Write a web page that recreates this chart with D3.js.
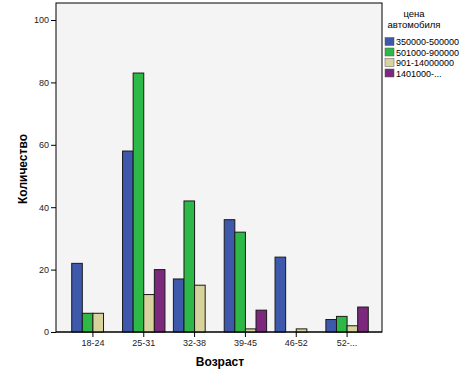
<!DOCTYPE html>
<html>
<head>
<meta charset="utf-8">
<script src="https://cdn.jsdelivr.net/npm/d3@7"></script>
<style>
  body { margin: 0; background: #fff; }
  svg { font-family: "Liberation Sans", Arial, sans-serif; }
</style>
</head>
<body>
<div id="chart"></div>
<script>
// age groups and price ranges
var ageGroups = ['18-24', '25-31', '32-38', '39-45', '46-52', '52-...'];
var priceRanges = ['350000-500000', '501000-900000', '901-14000000', '1401000-...'];
var priceColors = ['#3E58AC', '#2EB848', '#D8D39C', '#7C287D'];

// counts per age group, one array per price range
var cheap = [22, 58, 17, 36, 24, 4];
var middle = [6, 83, 42, 32, 0, 5];
var upper = [6, 12, 15, 1, 1, 2];
var top1 = [0, 20, 0, 7, 0, 8];
var yTicks = [0, 20, 40, 60, 80, 100];

var series = [cheap, middle, upper, top1];

var width = 464, height = 373;
var plot = { left: 56, right: 382, top: 3, bottom: 332 };

var svg = d3.select('#chart').append('svg')
    .attr('width', width)
    .attr('height', height);

// plot background
svg.append('rect')
    .attr('x', plot.left)
    .attr('y', plot.top)
    .attr('width', plot.right - plot.left)
    .attr('height', plot.bottom - plot.top)
    .attr('fill', '#F4F4F4')
    .attr('stroke', '#000')
    .attr('stroke-width', 1);

var x0 = d3.scaleBand()
    .domain(ageGroups)
    .range([67.5, 372.5]);

var x1 = d3.scaleBand()
    .domain(d3.range(priceRanges.length))
    .range([x0.bandwidth() / 2 - 21.2, x0.bandwidth() / 2 + 21.2]);

var y = d3.scaleLinear()
    .domain([0, 100])
    .range([plot.bottom, 20]);

// flatten data for bars, skip zero counts (SPSS leaves them out)
var bars = [];
series.forEach(function (vals, s) {
    vals.forEach(function (v, i) {
        if (v > 0) bars.push({ group: ageGroups[i], s: s, value: v });
    });
});

svg.append('g').selectAll('rect')
    .data(bars)
    .enter()
    .append('rect')
    .attr('x', function (d) { return x0(d.group) + x1(d.s); })
    .attr('y', function (d) { return y(d.value); })
    .attr('width', x1.bandwidth())
    .attr('height', function (d) { return plot.bottom - y(d.value); })
    .attr('fill', function (d) { return priceColors[d.s]; })
    .attr('stroke', '#1a1a1a')
    .attr('stroke-width', 1);

// y axis
var yAxis = svg.append('g')
    .attr('transform', 'translate(' + plot.left + ',0)')
    .call(d3.axisLeft(y).tickValues(yTicks).tickSize(5).tickPadding(2));
yAxis.select('.domain').remove();
yAxis.selectAll('text').attr('font-size', 9).attr('fill', '#222').attr('font-family', null);

// x axis
var xAxis = svg.append('g')
    .attr('transform', 'translate(0,' + plot.bottom + ')')
    .call(d3.axisBottom(x0).tickSize(5).tickPadding(3).tickSizeOuter(0));
xAxis.select('.domain').remove();
xAxis.selectAll('text').attr('font-size', 9).attr('fill', '#222').attr('font-family', null);

svg.append('line')
    .attr('x1', plot.left).attr('x2', plot.right)
    .attr('y1', plot.bottom).attr('y2', plot.bottom)
    .attr('stroke', '#000');

// axis titles
svg.append('text')
    .attr('x', 220)
    .attr('y', 366)
    .attr('text-anchor', 'middle')
    .attr('font-size', 12)
    .attr('font-weight', 'bold')
    .text('Возраст');

svg.append('text')
    .attr('transform', 'translate(27,169) rotate(-90)')
    .attr('text-anchor', 'middle')
    .attr('font-size', 12)
    .attr('font-weight', 'bold')
    .text('Количество');

// legend
var legend = svg.append('g');
legend.append('text')
    .attr('x', 414).attr('y', 17)
    .attr('text-anchor', 'middle')
    .attr('font-size', 9.5)
    .text('цена');
legend.append('text')
    .attr('x', 414).attr('y', 28)
    .attr('text-anchor', 'middle')
    .attr('font-size', 9.5)
    .text('автомобиля');

var items = legend.selectAll('g.item')
    .data(priceRanges)
    .enter()
    .append('g')
    .attr('class', 'item')
    .attr('transform', function (d, i) { return 'translate(385,' + (37.5 + i * 10.5) + ')'; });

items.append('rect')
    .attr('width', 9).attr('height', 8)
    .attr('fill', function (d, i) { return priceColors[i]; })
    .attr('stroke', '#555').attr('stroke-width', 0.5);

items.append('text')
    .attr('x', 11).attr('y', 7.5)
    .attr('font-size', 9)
    .text(function (d) { return d; });
</script>
</body>
</html>
